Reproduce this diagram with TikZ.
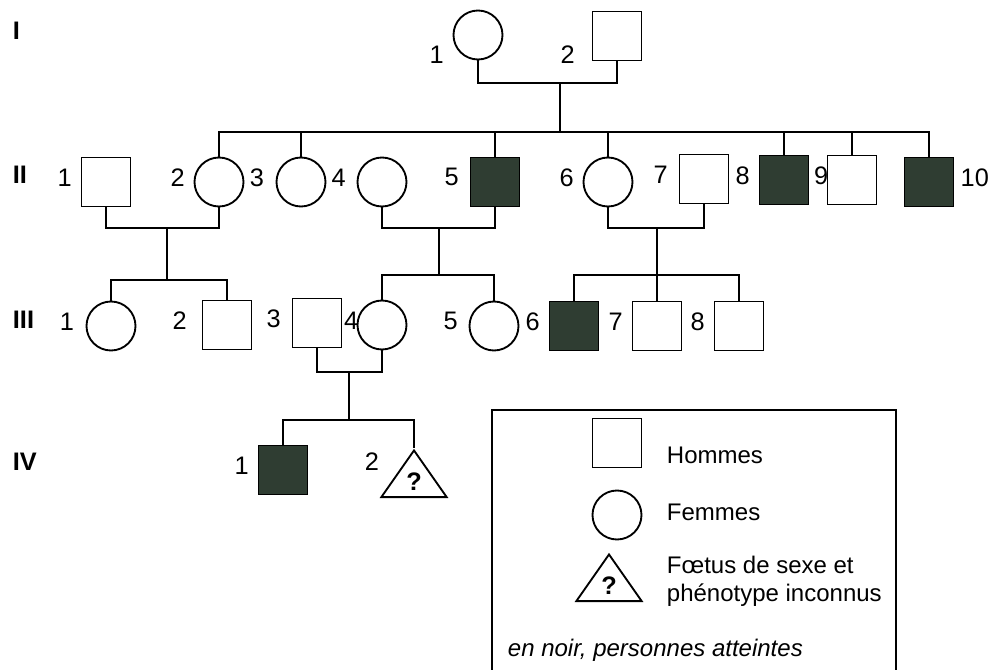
\documentclass[tikz,border=0pt]{standalone}
\usepackage{fontspec}
\setmainfont{Liberation Sans}
\usetikzlibrary{shapes.geometric}
\definecolor{atteint}{RGB}{47,61,50}
\tikzstyle{homme} = [draw, rectangle, minimum size=36.75pt, inner sep=0pt]
\tikzstyle{femme} = [draw, circle, minimum size=36.75pt, inner sep=0pt]
\tikzstyle{foetus} = [draw, isosceles triangle, shape border rotate=90, isosceles triangle stretches, minimum width=49pt, minimum height=35pt, inner sep=0pt, font=\fontsize{19}{19}\selectfont\bfseries]
\tikzstyle{colorAtt} = [fill=atteint]
\tikzstyle{num} = [font=\fontsize{19}{19}\selectfont, inner sep=0pt]
\tikzstyle{gen} = [anchor=west, inner sep=0pt, font=\fontsize{19}{19}\selectfont\bfseries]
\tikzstyle{legtext} = [anchor=west, inner sep=0pt, align=left, font=\fontsize{18}{21}\selectfont]

\begin{document}
\begin{tikzpicture}[x=0.75pt, y=-0.75pt, line width=1.4pt, label distance=6pt, every label/.style={num, yshift=3.5pt}]
\useasboundingbox (0,0) rectangle (992,670);

\node[gen] (g1) at (12,31) {I};
\node[gen] (g2) at (12,175) {II};
\node[gen] (g3) at (12,320) {III};
\node[gen] (g4) at (12,462) {IV};

\node[femme, label={[yshift=-18.5pt]left:1}] (i1) at (478,35) {};
\node[homme, label={[xshift=-6pt, yshift=-17.5pt]left:2}] (i2) at (617,36) {};

\node[homme, label=left:1] (ii1) at (106,182) {};
\node[femme, label=left:2] (ii2) at (219,182) {};
\node[femme, label={[xshift=-2pt]left:3}] (ii3) at (301,182) {};
\node[femme, label={[xshift=-1.5pt]left:4}] (ii4) at (382,182) {};
\node[homme, colorAtt, label={[xshift=-1.5pt]left:5}] (ii5) at (495,182) {};
\node[femme, label=left:6] (ii6) at (608,182) {};
\node[homme, label={[xshift=-1.5pt]left:7}] (ii7) at (704,179) {};
\node[homme, colorAtt, label=left:8] (ii8) at (784,180) {};
\node[homme, label={[xshift=8pt]left:9}] (ii9) at (852,180) {};
\node[homme, colorAtt, label={[xshift=-2pt]right:10}] (ii10) at (929,182) {};

\node[femme, label={[xshift=-2pt]left:1}] (iii1) at (111,326) {};
\node[homme, label={[xshift=-4.5pt]left:2}] (iii2) at (227,325) {};
\node[homme, label={[xshift=-1.5pt]left:3}] (iii3) at (317,323) {};
\node[femme, label={[xshift=8pt]left:4}] (iii4) at (382,325) {};
\node[femme, label={[xshift=-1.5pt]left:5}] (iii5) at (494,326) {};
\node[homme, colorAtt, label=left:6] (iii6) at (574,326) {};
\node[homme, label=left:7] (iii7) at (657,326) {};
\node[homme, label=left:8] (iii8) at (739,326) {};

\node[homme, colorAtt, label=left:1] (iv1) at (283,470) {};
\node[foetus, anchor=apex] (iv2) at (414,448) {?};
\node[num] (iv2n) at (372,462) {2};

\coordinate (m1) at (560,83);
\coordinate (s1) at (560,132);
\draw (i1.south) |- (m1) -| (i2.south);
\draw (m1) -- (s1);
\draw (ii2.north) |- (s1) -| (ii10.north);
\foreach \n in {ii3,ii5,ii6,ii8,ii9}
  \draw (\n.north) -- (\n.north |- s1);

\coordinate (m2) at (167,228);
\coordinate (s2) at (167,280);
\draw (ii1.south) |- (m2) -| (ii2.south);
\draw (m2) -- (s2);
\draw (iii1.north) |- (s2) -| (iii2.north);

\coordinate (m3) at (439,228);
\coordinate (s3) at (439,275);
\draw (ii4.south) |- (m3) -| (ii5.south);
\draw (m3) -- (s3);
\draw (iii4.north) |- (s3) -| (iii5.north);

\coordinate (m4) at (657,228);
\coordinate (s4) at (657,275);
\draw (ii6.south) |- (m4) -| (ii7.south);
\draw (m4) -- (s4);
\draw (iii6.north) |- (s4) -| (iii8.north);
\draw (iii7.north) -- (iii7.north |- s4);

\coordinate (m5) at (349,372);
\coordinate (s5) at (349,420);
\draw (iii3.south) |- (m5) -| (iii4.south);
\draw (m5) -- (s5);
\draw (iv1.north) |- (s5) -| (iv2.apex);

\draw (492,670) |- (896,410) -- (896,670);
\node[homme] (lh) at (617,443) {};
\node[femme] (lf) at (617,515) {};
\node[foetus, anchor=apex] (lt) at (609,552) {?};
\node[legtext] (lht) at (666,455) {Hommes};
\node[legtext] (lft) at (666,512) {Femmes};
\node[legtext] (ltt) at (666,581) {Fœtus de sexe et\\phénotype inconnus};
\node[legtext, font=\fontsize{18}{21}\selectfont\itshape] (lnoir) at (507,650) {en noir, personnes atteintes};
\end{tikzpicture}
\end{document}
